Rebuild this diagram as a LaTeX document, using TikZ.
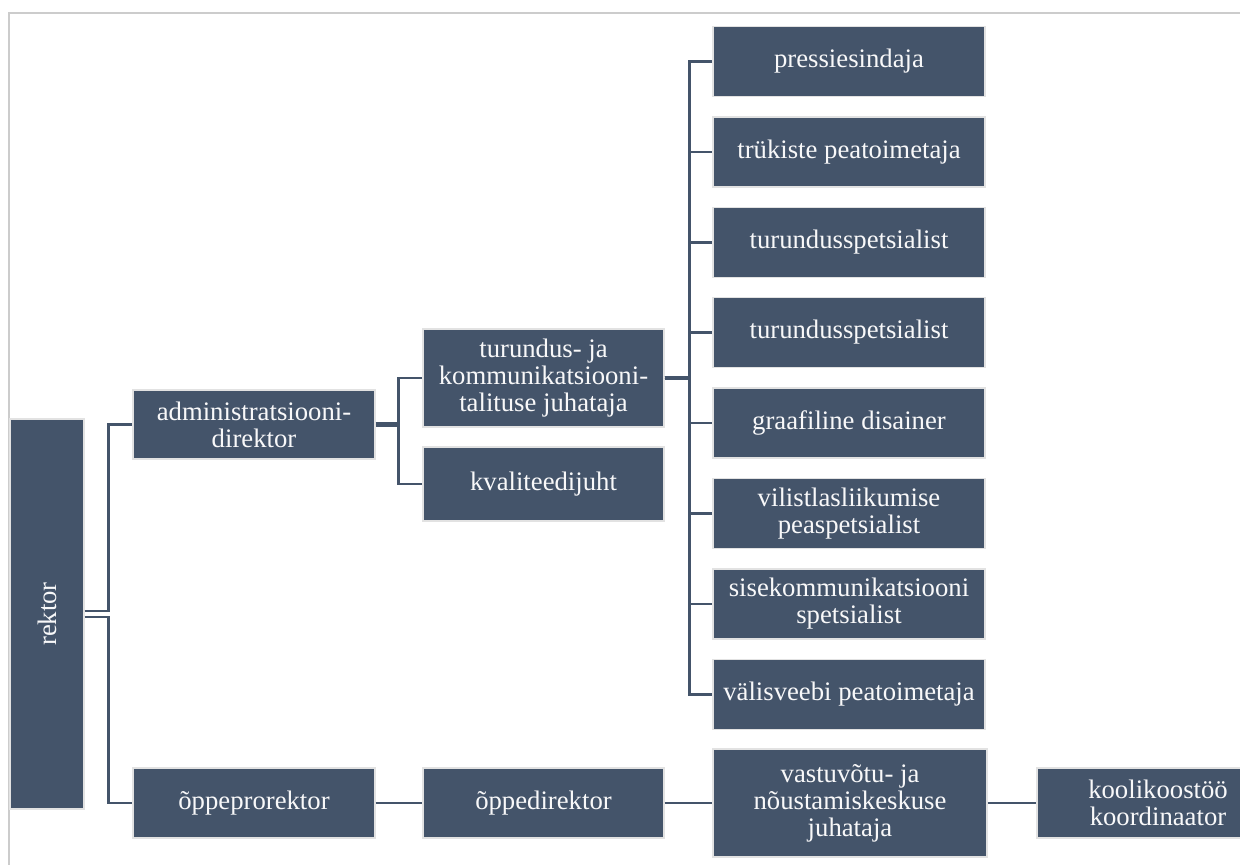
\documentclass[tikz,border=0pt]{standalone}
\usepackage{fontspec}
\setmainfont{Liberation Serif}
\newfontfamily\orgfont{Liberation Serif}
\usepackage{tikz}
\usetikzlibrary{positioning}
\usepackage{xcolor}
\definecolor{slate}{HTML}{44546A}
\definecolor{rim}{HTML}{E2E2E2}
\definecolor{framegray}{HTML}{CCCCCC}

\begin{document}
\begin{tikzpicture}[
    orgbox/.style={draw=rim, line width=0.8pt, fill=slate, text=white!96!slate,
        align=center, inner sep=0pt, minimum width=4.84cm, minimum height=1.4cm,
        font=\orgfont\fontsize{15.2}{15.4}\selectfont},
    link/.style={draw=slate, line width=1.5pt}
]
    \useasboundingbox (0,0) rectangle (24.8,-17.3);
    \clip (0,0) rectangle (24.8,-17.3);

    % Page frame
    \draw[framegray, line width=1.1pt] (0.18,-30) -- (0.18,-0.26) -- (30,-0.26);

    % Rector
    \node[orgbox, minimum width=1.48cm, minimum height=7.8cm] (rektor) at (0.94,-12.28) {\rotatebox{90}{rektor}};

    % Second level
    \node[orgbox, minimum height=1.38cm] (admin) at (5.08,-8.49) {administratsiooni-\\direktor};
    \node[orgbox] (opprorektor) at (5.08,-16.06) {õppeprorektor};

    % Third level
    \node[orgbox, minimum width=4.82cm, minimum height=1.96cm] (turundus) at (10.87,-7.56) {turundus- ja\\kommunikatsiooni-\\talituse juhataja};
    \node[orgbox, minimum width=4.82cm, minimum height=1.48cm] (kval) at (10.87,-9.68) {kvaliteedijuht};
    \node[orgbox, minimum width=4.82cm] (oppedir) at (10.87,-16.06) {õppedirektor};

    % Marketing and communication staff
    \node[orgbox, minimum width=5.44cm] (press) at (16.98,-1.23) {pressiesindaja};
    \node[orgbox, minimum width=5.44cm] (trykis) at (16.98,-3.04) {trükiste peatoimetaja};
    \node[orgbox, minimum width=5.44cm] (turspets1) at (16.98,-4.85) {turundusspetsialist};
    \node[orgbox, minimum width=5.44cm] (turspets2) at (16.98,-6.65) {turundusspetsialist};
    \node[orgbox, minimum width=5.44cm] (disainer) at (16.98,-8.46) {graafiline disainer};
    \node[orgbox, minimum width=5.44cm] (vilistl) at (16.98,-10.27) {vilistlasliikumise\\peaspetsialist};
    \node[orgbox, minimum width=5.44cm] (sisekom) at (16.98,-12.08) {sisekommunikatsiooni\\spetsialist};
    \node[orgbox, minimum width=5.44cm] (valisveeb) at (16.98,-13.89) {välisveebi peatoimetaja};

    % Study branch
    \node[orgbox, minimum width=5.48cm, minimum height=2.16cm] (vastuvott) at (17.0,-16.06) {vastuvõtu- ja\\nõustamiskeskuse\\juhataja};
    \node[orgbox] (koolikoos) at (23.16,-16.06) {koolikoostöö\\koordinaator};

    % Rector to directors
    \draw[link] ([yshift=0.06cm]rektor.east) -- ++(0.48,0) |- (admin.west);
    \draw[link] ([yshift=-0.06cm]rektor.east) -- ++(0.48,0) |- (opprorektor.west);

    % Administration director
    \draw[link] ([yshift=0.015cm]admin.east) -- ++(0.46,0) |- (turundus.west);
    \draw[link] ([yshift=-0.015cm]admin.east) -- ++(0.46,0) |- (kval.west);

    % Marketing head to staff
    \draw[link] ([yshift=0.02cm]turundus.east) -- ++(0.5,0) |- (press.west);
    \draw[link] ([yshift=0.02cm]turundus.east) -- ++(0.5,0) |- (trykis.west);
    \draw[link] ([yshift=0.02cm]turundus.east) -- ++(0.5,0) |- (turspets1.west);
    \draw[link] ([yshift=0.02cm]turundus.east) -- ++(0.5,0) |- (turspets2.west);
    \draw[link] ([yshift=-0.02cm]turundus.east) -- ++(0.5,0) |- (disainer.west);
    \draw[link] ([yshift=-0.02cm]turundus.east) -- ++(0.5,0) |- (vilistl.west);
    \draw[link] ([yshift=-0.02cm]turundus.east) -- ++(0.5,0) |- (sisekom.west);
    \draw[link] ([yshift=-0.02cm]turundus.east) -- ++(0.5,0) |- (valisveeb.west);

    % Study chain
    \draw[link] (opprorektor) -- (oppedir);
    \draw[link] (oppedir) -- (vastuvott);
    \draw[link] (vastuvott) -- (koolikoos);
\end{tikzpicture}
\end{document}
